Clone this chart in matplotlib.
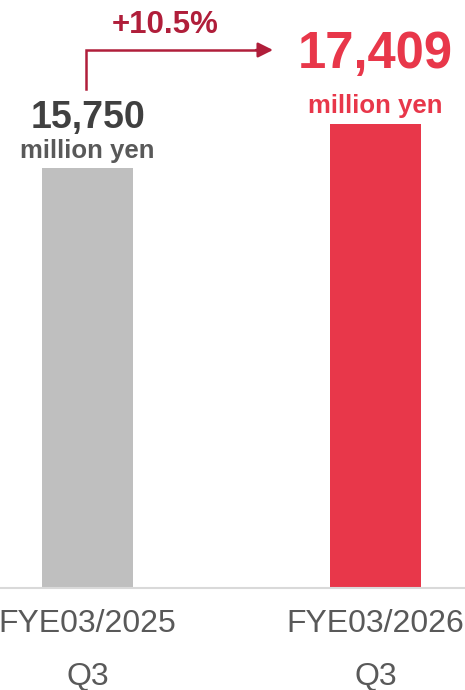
import matplotlib
matplotlib.use("Agg")
import matplotlib.pyplot as plt

categories = ["FYE03/2025\nQ3", "FYE03/2026\nQ3"]
values = [15750, 17409]
value_labels = ["15,750", "17,409"]
unit_label = "million yen"
growth_label = "+10.5%"

bar_colors = ["#BFBFBF", "#E8374A"]
value_colors = ["#404040", "#E8374A"]
unit_colors = ["#595959", "#E8374A"]
arrow_color = "#B01E3A"

plt.rcParams['font.family'] = ['Liberation Sans', 'DejaVu Sans']

W, H = 465, 690
fig = plt.figure(figsize=(W / 100, H / 100), dpi=100)
base_px = 588
ax = fig.add_axes([0, (H - base_px) / H, 1, base_px / H])

x = [0, 1]
ax.bar(x, values, width=91 / 288, color=bar_colors, zorder=2)

# scales: x=0 at 87.5px, x=1 at 375.5px ; top bar 464px tall
ax.set_xlim(-87.5 / 288, (W - 87.5) / 288)
units_per_px = values[1] / 464
ax.set_ylim(0, base_px * units_per_px)

for s in ["top", "right", "left"]:
    ax.spines[s].set_visible(False)
ax.spines["bottom"].set_color("#D9D9D9")
ax.spines["bottom"].set_linewidth(1.5)
ax.set_yticks([])
ax.set_xticks(x)
ax.set_xticklabels(categories, fontsize=23, color="#595959", linespacing=2.0)
ax.tick_params(axis="x", length=0, pad=15)

# value labels
value_off = [36, 50]
unit_off = [12.5, 13]
value_fs = [27, 36.5]
unit_fs = [18.5, 18.5]
for i in range(2):
    ax.annotate(value_labels[i], (x[i], values[i]), xytext=(0, value_off[i]),
                textcoords="offset points", ha="center", va="center",
                fontsize=value_fs[i], fontweight="bold", color=value_colors[i])
    ax.annotate(unit_label, (x[i], values[i]), xytext=(0, unit_off[i]),
                textcoords="offset points", ha="center", va="center",
                fontsize=unit_fs[i], fontweight="bold", color=unit_colors[i])

# growth arrow (elbow)
def py(p):
    return (base_px - p) * units_per_px

def px(p):
    return (p - 87.5) / 288

ax.plot([px(86), px(86), px(258)], [py(89), py(50), py(50)],
        color=arrow_color, lw=1.8, solid_joinstyle="miter", clip_on=False)
ax.annotate("", xy=(px(273), py(50)), xytext=(px(256), py(50)),
            arrowprops=dict(arrowstyle="-|>,head_length=0.9,head_width=0.45",
                            color=arrow_color, lw=1.8, shrinkA=0, shrinkB=0),
            annotation_clip=False)
ax.text(px(165), py(25), growth_label, ha="center", va="center",
        fontsize=22.5, fontweight="bold", color=arrow_color)

fig.savefig("out.png", dpi=100)
